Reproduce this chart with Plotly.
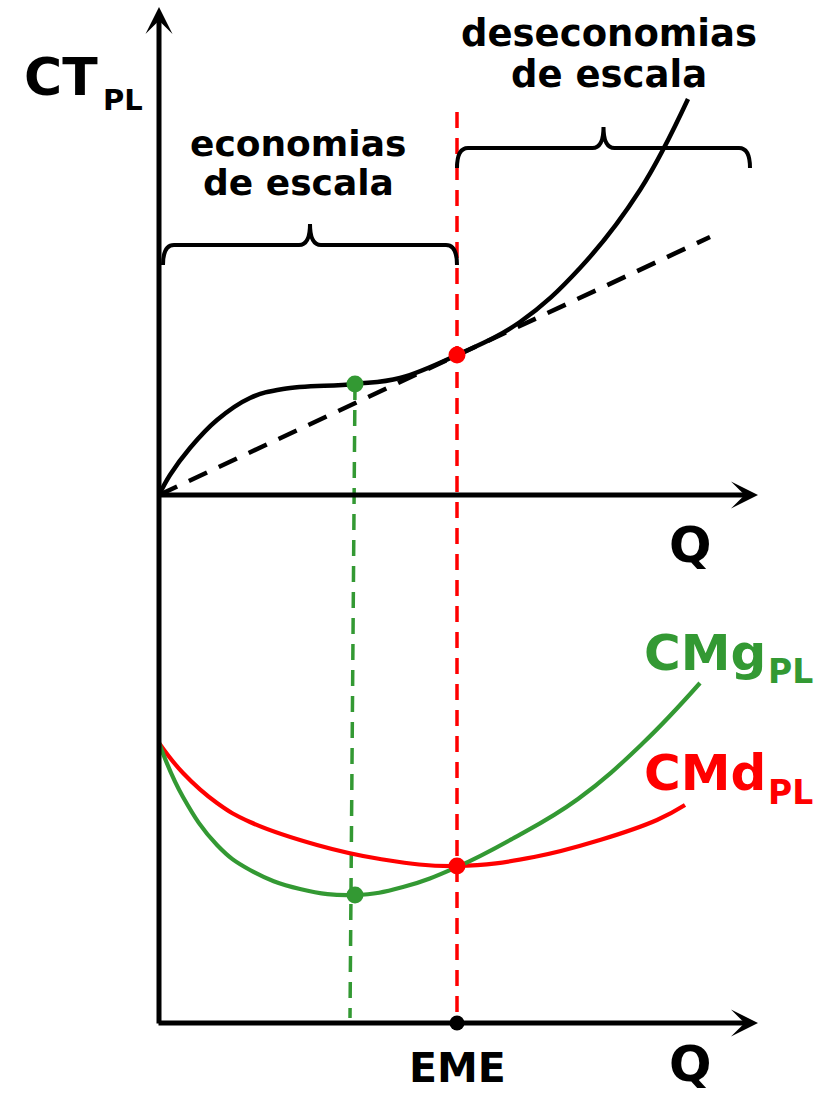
import plotly.graph_objects as go

# ---- data (x: quantity units, top y: total cost, bottom y: unit cost) ----
ct_q = [0, 11, 31, 58, 91, 124, 196, 241, 298, 361, 421, 481, 529]
ct_v = [0, 20, 47, 75, 97, 106, 111, 117, 140, 173, 227, 305, 396]
ray_q = [0, 551]
ray_v = [0, 258]

cmg_q = [0, 24, 58, 91, 141, 196, 244, 298, 353, 419, 484, 541]
cmg_v = [280, 226, 178, 153, 134, 128, 136, 156, 184, 224, 280, 340]
cmd_q = [0, 24, 58, 91, 158, 221, 298, 375, 441, 498, 526]
cmd_v = [280, 250, 220, 201, 178, 164, 157, 166, 183, 203, 218]

q_min_cmg = 196      # minimum of marginal cost (inflection of CT)
q_eme = 298          # efficient minimum scale
ct_at_min = 111
ct_at_eme = 140
cmg_at_min = 128
cmd_at_eme = 157

GREEN = "#339933"
RED = "#ff0000"
FONT = "DejaVu Sans"

fig = go.Figure()

# top panel curves
fig.add_trace(go.Scatter(x=ray_q, y=ray_v, mode="lines",
                         line=dict(color="black", width=4.5, dash="20px,13px")))
fig.add_trace(go.Scatter(x=ct_q, y=ct_v, mode="lines",
                         line=dict(color="black", width=4.5, shape="spline", smoothing=1.1)))

# vertical guides (top coords)
fig.add_trace(go.Scatter(x=[q_eme, q_eme], y=[383, -528], mode="lines",
                         line=dict(color=RED, width=3.5, dash="16px,10px")))
fig.add_trace(go.Scatter(x=[q_min_cmg, q_min_cmg - 5], y=[ct_at_min, -523], mode="lines",
                         line=dict(color=GREEN, width=3.5, dash="16px,10px")))

# bottom panel curves
fig.add_trace(go.Scatter(x=cmd_q, y=cmd_v, mode="lines", yaxis="y2",
                         line=dict(color=RED, width=4.2, shape="spline", smoothing=1.2)))
fig.add_trace(go.Scatter(x=cmg_q, y=cmg_v, mode="lines", yaxis="y2",
                         line=dict(color=GREEN, width=4.2, shape="spline", smoothing=1.2)))

# dots
fig.add_trace(go.Scatter(x=[q_min_cmg], y=[ct_at_min], mode="markers",
                         marker=dict(color=GREEN, size=17)))
fig.add_trace(go.Scatter(x=[q_eme], y=[ct_at_eme], mode="markers",
                         marker=dict(color=RED, size=17)))
fig.add_trace(go.Scatter(x=[q_min_cmg], y=[cmg_at_min], mode="markers", yaxis="y2",
                         marker=dict(color=GREEN, size=17)))
fig.add_trace(go.Scatter(x=[q_eme], y=[cmd_at_eme], mode="markers", yaxis="y2",
                         marker=dict(color=RED, size=17)))
fig.add_trace(go.Scatter(x=[q_eme], y=[0], mode="markers", yaxis="y2",
                         marker=dict(color="black", size=15)))


def brace(x0, x1, yb, h=20, tip=21, r=11):
    xm = (x0 + x1) / 2
    yh = yb + h
    yt = yh + tip
    return (f"M{x0},{yb} Q{x0},{yh} {x0 + r},{yh} L{xm - r},{yh} "
            f"Q{xm},{yh} {xm},{yt} Q{xm},{yh} {xm + r},{yh} "
            f"L{x1 - r},{yh} Q{x1},{yh} {x1},{yb}")


shapes = [
    dict(type="path", path=brace(4, q_eme, 230), xref="x", yref="y",
         line=dict(color="black", width=4)),
    dict(type="path", path=brace(q_eme, 591, 327), xref="x", yref="y",
         line=dict(color="black", width=4)),
]

ann = []
arrow = dict(showarrow=True, arrowhead=3, arrowsize=0.9, arrowwidth=5,
             arrowcolor="black", text="", axref="x", xref="x")
# axes with arrows
ann.append(dict(x=0, y=488, ax=0, ay=-530, yref="y", ayref="y", **arrow))
ann.append(dict(x=599, y=0, ax=-2, ay=0, yref="y", ayref="y", **arrow))
ann.append(dict(x=599, y=0, ax=-2, ay=0, yref="y2", ayref="y2", **arrow))


def label(text, x, y, size, color="black", yref="y", xanchor="center"):
    ann.append(dict(x=x, y=y, xref="x", yref=yref, text=text, showarrow=False,
                    xanchor=xanchor, yanchor="middle",
                    font=dict(family=FONT, size=size, color=color, weight="bold")))


label("CT", -98, 418, 52)
label("PL", -36, 395, 29)
label("economias", 139, 352, 36)
label("de escala", 139, 313, 36)
label("deseconomias", 450, 462, 37)
label("de escala", 450, 421, 37)
label("Q", 531, -50, 50)
label("Q", 531, -41, 50, yref="y2")
label("EME", q_eme, -45, 41, yref="y2")
label("CMg", 483, 370, 50, GREEN, yref="y2", xanchor="left")
label("PL", 607, 352, 33, GREEN, yref="y2", xanchor="left")
label("CMd", 483, 250, 50, RED, yref="y2", xanchor="left")
label("PL", 607, 231, 33, RED, yref="y2", xanchor="left")

fig.update_layout(
    width=823, height=1093, margin=dict(l=0, r=0, t=0, b=0),
    paper_bgcolor="white", plot_bgcolor="white", showlegend=False,
    xaxis=dict(range=[-159, 664], visible=False, fixedrange=True),
    yaxis=dict(range=[-598, 495], visible=False, fixedrange=True),
    yaxis2=dict(range=[-70, 1023], visible=False, overlaying="y", fixedrange=True),
    shapes=shapes, annotations=ann,
)

fig.write_html("out.html", config={"displayModeBar": False},
               post_script="document.body.style.margin='0';")
